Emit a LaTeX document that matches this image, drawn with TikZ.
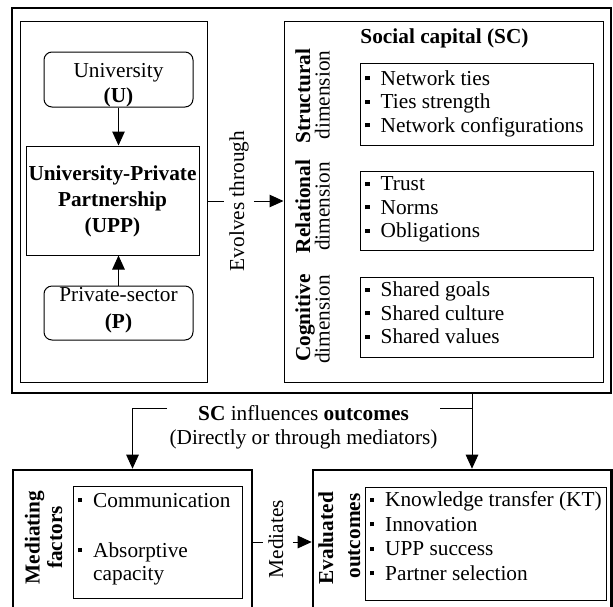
\documentclass[tikz,border=0pt]{standalone}
\usepackage{fontspec}
\setmainfont{Liberation Serif}
\usetikzlibrary{arrows.meta}
\newcommand\sqb{\makebox[15.5pt][l]{\rule[4.8pt]{4.4pt}{4.4pt}}}
\newcommand\fz[1]{\fontsize{21.3}{#1}\selectfont}
\begin{document}
\begin{tikzpicture}[x=1pt,y=-1pt,
  thinbox/.style={draw, line width=1pt, inner sep=0pt, rectangle},
  outerbox/.style={draw, line width=2.6pt, inner sep=0pt, rectangle},
  roundbox/.style={draw, line width=1pt, inner sep=0pt, rectangle, rounded corners=8pt},
  ln/.style={line width=1pt},
  arr/.style={line width=1pt, -{Triangle[length=14pt,width=12.5pt]}},
  txt/.style={inner sep=0pt, align=center},
  items/.style={inner sep=0pt, align=left, anchor=north west},
  rot/.style={inner sep=0pt, rotate=90, anchor=base, font=\fz{25}},
  conn/.style={rotate=90, anchor=base, inner xsep=0pt, inner ysep=5pt, text height=14.5pt, text depth=4.6pt, font=\fz{25}},
  every node/.append style={font=\fz{25}}
]
\useasboundingbox (0,0) rectangle (613,606);
\clip (0,0) rectangle (613,606);

% containers
\node[outerbox, minimum width=599pt, minimum height=385pt] (outer) at (311.5,200.5) {};
\node[thinbox, minimum width=187pt, minimum height=361pt] (leftc) at (113.5,201.5) {};
\node[thinbox, minimum width=319pt, minimum height=361pt] (rightc) at (443.5,201.5) {};

% left part
\node[roundbox, minimum width=149pt, minimum height=55pt] (U) at (118.5,79.5) {};
\node[txt, anchor=north, font=\fz{25.5}] (Ut) at (118.5,59.15) {\strut University\\\strut\textbf{(U)}};
\node[thinbox, minimum width=173pt, minimum height=109pt] (UPP) at (112.5,200.5) {};
\node[txt, anchor=north, font=\fz{26}\bfseries] (UPPt) at (112.5,162.4) {\strut University-Private\\\strut Partnership\\\strut (UPP)};
\node[roundbox, minimum width=149pt, minimum height=54pt] (P) at (118.5,313) {};
\node[txt, anchor=north, font=\fz{27}] (Pt) at (118.5,282.1) {\strut Private-sector\\\strut\textbf{(P)}};
\draw[arr] (U.south) -- (UPP.north -| U.south);
\draw[arr] (P.north) -- (UPP.south -| P.north);

% evolves through
\node[conn] (evol) at (244,201) {Evolves through};
\draw[ln] (leftc.east |- evol.center) -- (evol.north);
\draw[arr] (evol.south) -- (rightc.west |- evol.center);

% social capital
\node[inner sep=0pt, anchor=base, font=\fz{25}\bfseries] (SC) at (444.5,43) {Social capital (SC)};
\node[thinbox, minimum width=232.5pt, minimum height=82pt] (b1) at (476.75,104) {};
\node[thinbox, minimum width=232.5pt, minimum height=79pt] (b2) at (476.75,210.5) {};
\node[thinbox, minimum width=232.5pt, minimum height=80pt] (b3) at (476.75,317) {};
\node[items, font=\fz{23.5}] (t1) at (365,68.55) {\strut\sqb Network ties\\\strut\sqb Ties strength\\\strut\sqb Network configurations};
\node[items, font=\fz{23.5}] (t2) at (365,174.05) {\strut\sqb Trust\\\strut\sqb Norms\\\strut\sqb Obligations};
\node[items, font=\fz{23.5}] (t3) at (365,280.05) {\strut\sqb Shared goals\\\strut\sqb Shared culture\\\strut\sqb Shared values};

\node[rot] (s1) at (310,96) {\textbf{Structural}};
\node[rot] (s2) at (329.5,95) {dimension};
\node[rot] (r1) at (310,206.5) {\textbf{Relational}};
\node[rot] (r2) at (329.5,206.5) {dimension};
\node[rot] (c1) at (310,318) {\textbf{Cognitive}};
\node[rot] (c2) at (329.5,319.5) {dimension};

% bottom text and arrows
\node[txt, anchor=north, font=\fz{23.3}] (inf) at (303.5,404.4) {\strut\textbf{SC} influences \textbf{outcomes}\\\strut(Directly or through mediators)};

\node[outerbox, minimum width=239pt, minimum height=155pt] (med) at (132.5,547.5) {};
\node[outerbox, minimum width=298.5pt, minimum height=155pt] (eval) at (462.25,547.5) {};

\coordinate (lstart) at (167,408);
\coordinate (rstart) at (440,408);
\coordinate (rjoin) at (472,408);
\draw[arr] (lstart) -| (med.north);
\draw[ln] (rstart) -- (rjoin);
\draw[arr] (outer.south -| rjoin) -- (eval.north -| rjoin);

% mediating
\node[thinbox, minimum width=169pt, minimum height=112pt] (mi) at (157.5,542) {};
\node[items, font=\fz{23.5}] (mt) at (77.5,490.55) {\strut\sqb Communication\\[26.5pt]\strut\sqb Absorptive\\\strut\hspace*{15.5pt}capacity};
\node[rot] (m1) at (39.5,537.5) {\textbf{Mediating}};
\node[rot] (m2) at (62,537.5) {\textbf{factors}};

% mediates connector
\node[conn] (medi) at (283,539) {Mediates};
\coordinate (my) at (0,542);
\draw[ln] (med.east |- my) -- (medi.north |- my);
\draw[arr] (medi.south |- my) -- (eval.west |- my);

% evaluated
\node[thinbox, minimum width=241pt, minimum height=113pt] (ei) at (485.5,543.5) {};
\node[items, font=\fz{24.5}] (et) at (369.5,489.35) {\strut\sqb Knowledge transfer (KT)\\\strut\sqb Innovation\\\strut\sqb UPP success\\\strut\sqb Partner selection};
\node[rot] (e1) at (333,538.3) {\textbf{Evaluated}};
\node[rot] (e2) at (360,536) {\textbf{outcomes}};
\end{tikzpicture}
\end{document}
